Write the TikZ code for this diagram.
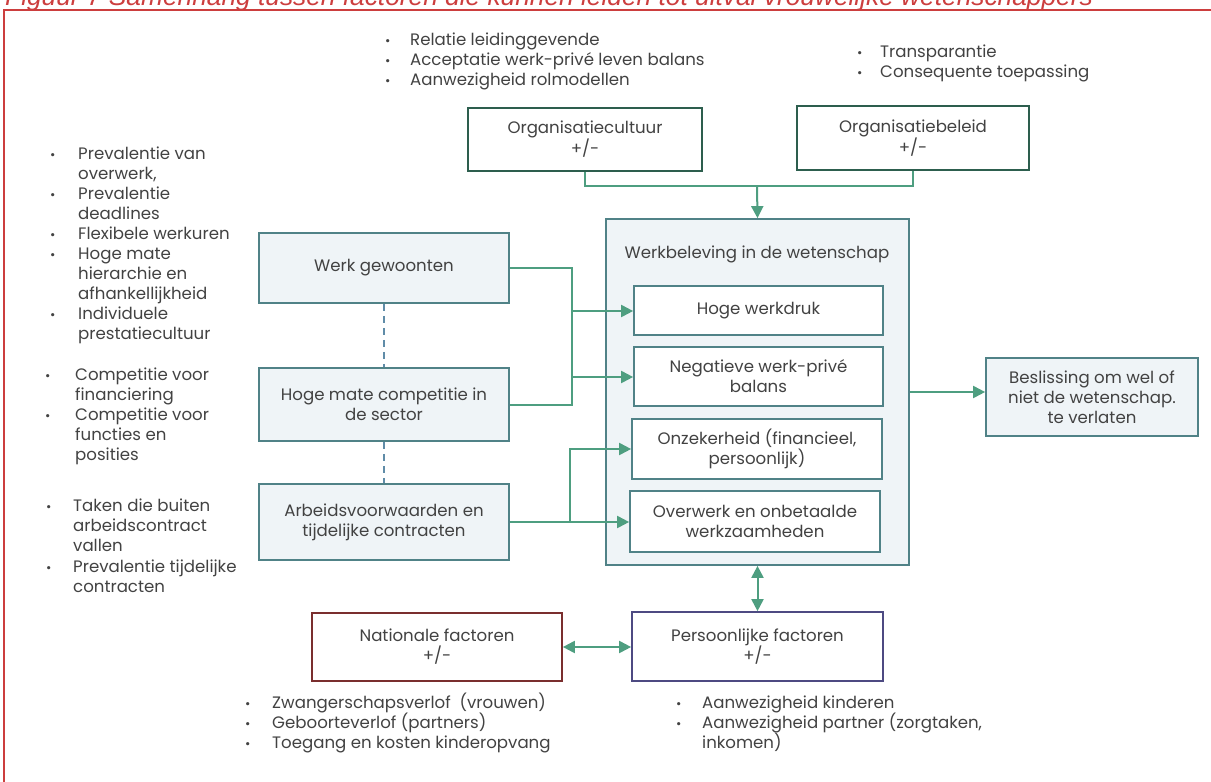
\documentclass[tikz,border=0pt]{standalone}
\usepackage{fontspec}
\setmainfont{Poppins}
\newfontfamily\titelfont{Liberation Sans}
\usepackage{tikz}
\usetikzlibrary{arrows.meta}

\definecolor{tekst}{RGB}{66,66,66}
\definecolor{rood}{RGB}{204,62,62}
\definecolor{pijl}{RGB}{78,158,128}
\definecolor{rand}{RGB}{80,130,135}
\definecolor{vulling}{RGB}{239,244,247}
\definecolor{orgrand}{RGB}{45,94,78}
\definecolor{natrand}{RGB}{122,46,46}
\definecolor{persrand}{RGB}{77,74,130}
\definecolor{stippel}{RGB}{96,140,168}

\begin{document}
\begin{tikzpicture}[x=1pt,y=-1pt,
    font=\fontsize{16.6}{20}\selectfont, text=tekst,
    blok/.style={draw=rand, line width=1.7pt, fill=vulling, align=center},
    binnen/.style={draw=rand, line width=1.7pt, fill=white, align=center},
    orgblok/.style={draw=orgrand, line width=1.7pt, fill=white, align=center},
    verbind/.style={draw=pijl, line width=2pt},
    pijlkop/.style={verbind, -{Triangle[length=12pt,width=12pt]}},
    tweekop/.style={verbind, {Triangle[length=12pt,width=12pt]}-{Triangle[length=12pt,width=12pt]}},
    regel/.style={anchor=west, inner sep=0pt, text height=1.6ex, text depth=.3ex},
    bol/.style={regel, font=\fontsize{13}{14}\selectfont}]

    % Grenzen
    \useasboundingbox (0,0) rectangle (1211,782);
    \clip (0,0) rectangle (1211,782);

    % Titel en kader
    \node[anchor=base west, inner sep=0pt, text=rood,
          font=\titelfont\itshape\fontsize{26.3}{30}\selectfont] (titel) at (5,5)
        {Figuur 7 Samenhang tussen factoren die kunnen leiden tot uitval vrouwelijke wetenschappers};
    \draw[rood, line width=1.8pt] (4,820) -- (4,10) -- (1230,10);

    % Organisatie
    \node[orgblok, minimum width=234, minimum height=63] (cult) at (585,139.5) {Organisatiecultuur\\+/-};
    \node[orgblok, minimum width=232, minimum height=64] (beleid) at (913,138) {Organisatiebeleid\\+/-};

    % Werkbeleving
    \node[blok, minimum width=303, minimum height=346] (werk) at (757.5,392) {};
    \node (werktitel) at (757,254) {Werkbeleving in de wetenschap};
    \node[binnen, minimum width=249, minimum height=49] (druk) at (758.5,310.5) {Hoge werkdruk};
    \node[binnen, minimum width=249, minimum height=59] (balans) at (758.5,376.5) {Negatieve werk-privé\\balans};
    \node[binnen, minimum width=250, minimum height=60] (onzek) at (757,449) {Onzekerheid (financieel,\\persoonlijk)};
    \node[binnen, minimum width=250, minimum height=61] (overw) at (755,521.5) {Overwerk en onbetaalde\\werkzaamheden};

    % Oorzaken links
    \node[blok, minimum width=250, minimum height=70] (gewoon) at (384,268) {Werk gewoonten};
    \node[blok, minimum width=250, minimum height=73] (compet) at (384,404.5) {Hoge mate competitie in\\de sector};
    \node[blok, minimum width=250, minimum height=76] (arbeid) at (384,522) {Arbeidsvoorwaarden en\\tijdelijke contracten};

    % Beslissing
    \node[blok, minimum width=212, minimum height=78] (besl) at (1092,397) {Beslissing om wel of\\niet de wetenschap.\\te verlaten};

    % Factoren onder
    \node[draw=natrand, line width=1.7pt, fill=white, align=center, minimum width=250, minimum height=68] (nat) at (437,647) {Nationale factoren\\+/-};
    \node[draw=persrand, line width=1.7pt, fill=white, align=center, minimum width=251, minimum height=69] (pers) at (757.5,646.5) {Persoonlijke factoren\\+/-};

    % Verbindingen
    \coordinate (j1) at (757,186);
    \coordinate (j2) at (572,311);
    \coordinate (j3) at (572,377);
    \coordinate (j4) at (570,449);
    \draw[verbind] (cult.south) -- (cult.south |- j1) -- (beleid.south |- j1) -- (beleid.south);
    \draw[pijlkop] (j1) -- (werk.north);
    \draw[verbind] (gewoon.east) -| (j2) |- (compet.east);
    \draw[pijlkop] (j2) -- (druk.west |- j2);
    \draw[pijlkop] (j3) -- (balans.west |- j3);
    \draw[pijlkop] (arbeid.east) -| (j4) -- (onzek.west |- j4);
    \draw[pijlkop] (arbeid.east) -- (overw.west |- arbeid.east);
    \draw[pijlkop] (werk.east) -- (werk.east -| besl.west);
    \draw[tweekop] (werk.south) -- (pers.north);
    \draw[tweekop] (nat.east) -- (nat.east -| pers.west);
    \draw[stippel, line width=1.5pt, dash pattern=on 7pt off 5pt] (gewoon.south) -- (compet.north);
    \draw[stippel, line width=1.5pt, dash pattern=on 7pt off 5pt] (compet.south) -- (arbeid.north);

    % Opsommingen boven
    \foreach \y/\t in {42/Relatie leidinggevende, 62/Acceptatie werk-privé leven balans, 82/Aanwezigheid rolmodellen}
    {
        \node[bol] (cb\y) at (385,\y) {\textbullet};
        \node[regel] (ct\y) at (410,\y) {\t};
    }
    \foreach \y/\t in {54/Transparantie, 74/Consequente toepassing}
    {
        \node[bol] (bb\y) at (857,\y) {\textbullet};
        \node[regel] (bt\y) at (880,\y) {\t};
    }

    % Opsommingen links
    \foreach \y/\b/\t in {
        156/1/Prevalentie van, 176/0/{overwerk,}, 196/1/Prevalentie, 216/0/deadlines,
        236/1/Flexibele werkuren, 256/1/Hoge mate, 276/0/hierarchie en,
        296/0/afhankellijkheid, 316/1/Individuele, 336/0/prestatiecultuur}
    {
        \ifnum\b=1
            \node[bol] (gb\y) at (50,\y) {\textbullet};
        \fi
        \node[regel] (gt\y) at (78,\y) {\t};
    }
    \foreach \y/\b/\t in {377/1/Competitie voor, 397/0/financiering, 417/1/Competitie voor,
        437/0/functies en, 457/0/posities}
    {
        \ifnum\b=1
            \node[bol] (kb\y) at (45,\y) {\textbullet};
        \fi
        \node[regel] (kt\y) at (75,\y) {\t};
    }
    \foreach \y/\b/\t in {508/1/Taken die buiten, 528/0/arbeidscontract, 548/0/vallen,
        569/1/Prevalentie tijdelijke, 589/0/contracten}
    {
        \ifnum\b=1
            \node[bol] (ab\y) at (46,\y) {\textbullet};
        \fi
        \node[regel] (at\y) at (73,\y) {\t};
    }

    % Opsommingen onder
    \foreach \y/\t in {705/Zwangerschapsverlof~ (vrouwen), 725/Geboorteverlof (partners), 745/Toegang en kosten kinderopvang}
    {
        \node[bol] (nb\y) at (245,\y) {\textbullet};
        \node[regel] (nt\y) at (272,\y) {\t};
    }
    \foreach \y/\b/\t in {705/1/Aanwezigheid kinderen, 725/1/{Aanwezigheid partner (zorgtaken,}, 745/0/inkomen)}
    {
        \ifnum\b=1
            \node[bol] (pb\y) at (676,\y) {\textbullet};
        \fi
        \node[regel] (pt\y) at (702,\y) {\t};
    }
\end{tikzpicture}
\end{document}
